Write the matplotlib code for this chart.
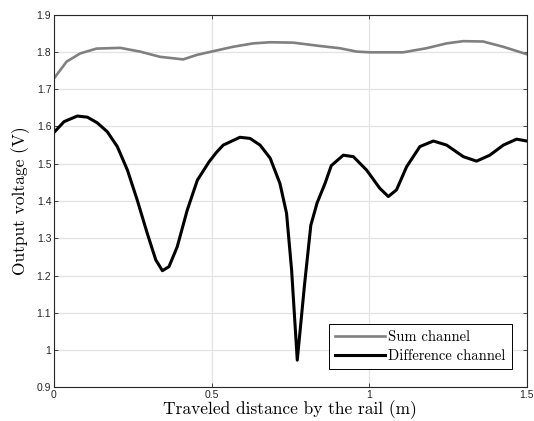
import numpy as np
import matplotlib
matplotlib.use("Agg")
import matplotlib.pyplot as plt

# sum channel (gray)
sum_x = [0.0, 0.04, 0.083, 0.135, 0.21, 0.273, 0.336, 0.41, 0.453, 0.5, 0.569,
         0.632, 0.685, 0.759, 0.844, 0.907, 0.96, 1.003, 1.108, 1.182, 1.246,
         1.299, 1.362, 1.425, 1.5]
sum_y = [1.729, 1.774, 1.796, 1.809, 1.811, 1.801, 1.787, 1.780, 1.792, 1.801, 1.814,
         1.823, 1.826, 1.825, 1.816, 1.810, 1.801, 1.799, 1.799, 1.810, 1.823,
         1.829, 1.828, 1.814, 1.794]

# difference channel (black)
diff_x = [0.0, 0.032, 0.074, 0.106, 0.137, 0.169, 0.201, 0.233, 0.264, 0.296,
          0.323, 0.344, 0.365, 0.391, 0.423, 0.455, 0.492, 0.515, 0.537, 0.590,
          0.622, 0.654, 0.686, 0.717, 0.738, 0.754, 0.772, 0.795, 0.815, 0.835,
          0.860, 0.880, 0.918, 0.950, 0.992, 1.034, 1.061, 1.087, 1.119, 1.161,
          1.204, 1.246, 1.299, 1.341, 1.383, 1.426, 1.468, 1.5]
diff_y = [1.584, 1.613, 1.628, 1.625, 1.610, 1.586, 1.546, 1.483, 1.403, 1.313,
          1.242, 1.213, 1.224, 1.277, 1.376, 1.456, 1.505, 1.530, 1.550, 1.571,
          1.568, 1.550, 1.515, 1.447, 1.367, 1.215, 0.973, 1.175, 1.335, 1.395,
          1.447, 1.495, 1.523, 1.519, 1.483, 1.434, 1.412, 1.430, 1.492, 1.546,
          1.561, 1.550, 1.519, 1.507, 1.523, 1.550, 1.566, 1.561]

xticks = [0, 0.5, 1, 1.5]
xticklabels = ["0", "0.5", "1", "1.5"]
yticks = [0.9, 1, 1.1, 1.2, 1.3, 1.4, 1.5, 1.6, 1.7, 1.8, 1.9]
yticklabels = ["0.9", "1", "1.1", "1.2", "1.3", "1.4", "1.5", "1.6", "1.7", "1.8", "1.9"]

plt.rcParams["font.family"] = ["Liberation Sans", "DejaVu Sans"]

fig = plt.figure(figsize=(5.34, 4.21), dpi=100)
ax = fig.add_axes([0.1011, 0.0800, 0.8852, 0.8851])

ax.plot(sum_x, sum_y, color="#808080", lw=1.9, label="Sum channel")
ax.plot(diff_x, diff_y, color="black", lw=2.2, label="Difference channel")

ax.set_xlim(0, 1.5)
ax.set_ylim(0.9, 1.9)
ax.set_xticks(xticks)
ax.set_xticklabels(xticklabels)
ax.set_yticks(yticks)
ax.set_yticklabels(yticklabels)
ax.grid(True, color="#e3e3e3", lw=0.9)
ax.set_axisbelow(True)
ax.tick_params(direction="in", length=3, width=0.6, top=True, right=True,
               labelsize=7.5, colors="#262626", pad=2)
for s in ax.spines.values():
    s.set_color("#262626")
    s.set_linewidth(0.8)

serif = {"family": "cmr10", "size": 12.5}
ax.set_xlabel("Traveled distance by the rail (m)", fontdict=serif, labelpad=0)
ax.set_ylabel("Output voltage (V)", fontdict=serif, labelpad=5)

leg = ax.legend(loc="lower right", bbox_to_anchor=(0.968, 0.048),
                borderaxespad=0,
                prop={"family": "cmr10", "size": 10.5}, fancybox=False,
                edgecolor="black", framealpha=1, handlelength=3.4,
                handletextpad=0.2, borderpad=0.45, labelspacing=0.35)
leg.get_frame().set_linewidth(0.7)

fig.savefig("out.png", dpi=100)
